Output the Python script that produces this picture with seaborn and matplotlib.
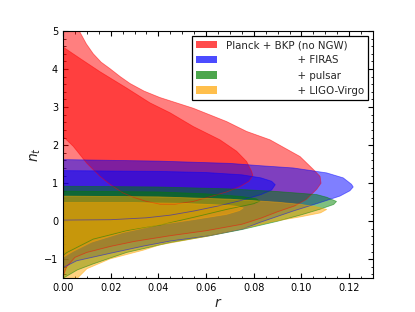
import numpy as np
import seaborn as sns
import matplotlib
matplotlib.use("Agg")
import matplotlib.pyplot as plt
from matplotlib.patches import Patch
from matplotlib.ticker import MultipleLocator, FormatStrFormatter

# contour boundaries (r, n_t), traced around each region
red_95 = [(0.0, 5.6), (0.0045, 5.3), (0.0071, 4.97), (0.0098, 4.66), (0.0127, 4.40),
          (0.016, 4.18), (0.0197, 4.01), (0.024, 3.8), (0.0281, 3.62), (0.034, 3.42),
          (0.0407, 3.25), (0.0546, 2.97), (0.0686, 2.62), (0.077, 2.36),
          (0.0868, 2.14), (0.0994, 1.70), (0.105, 1.36), (0.1078, 1.18), (0.1082, 1.0),
          (0.1064, 0.84), (0.102, 0.57), (0.097, 0.40), (0.09, 0.25), (0.083, 0.08),
          (0.075, -0.08), (0.06, -0.25), (0.045, -0.38), (0.03, -0.53), (0.02, -0.66),
          (0.01, -0.82), (0.005, -0.95), (0.0015, -1.2), (0.0, -1.45)]
red_68 = [(0.0, 4.58), (0.0071, 4.28), (0.0155, 3.93), (0.0267, 3.50), (0.0365, 3.11),
          (0.0449, 2.85), (0.0546, 2.49), (0.0658, 2.14), (0.0728, 1.84), (0.077, 1.57),
          (0.0791, 1.31), (0.0796, 1.2), (0.078, 1.05), (0.0745, 0.92), (0.0686, 0.77),
          (0.062, 0.65), (0.0546, 0.52), (0.047, 0.45), (0.0407, 0.45), (0.035, 0.52),
          (0.0295, 0.63), (0.025, 0.75), (0.0197, 0.97), (0.0155, 1.18), (0.0099, 1.53),
          (0.0043, 1.97), (0.0, 2.23)]
blue_95 = [(0.0, 1.62), (0.04, 1.58), (0.07, 1.52), (0.0826, 1.46), (0.0966, 1.40),
           (0.1106, 1.27), (0.1175, 1.14), (0.121, 0.97), (0.1217, 0.9), (0.1203, 0.8),
           (0.1161, 0.66), (0.1078, 0.49), (0.0966, 0.27), (0.0826, -0.03), (0.0756, -0.2),
           (0.0616, -0.38), (0.045, -0.52), (0.034, -0.65), (0.02, -0.84), (0.0057, -1.04),
           (0.0, -1.22)]
blue_68 = [(0.0, 1.33), (0.04, 1.31), (0.06, 1.28), (0.075, 1.22), (0.083, 1.14),
           (0.0875, 1.05), (0.089, 0.96), (0.0875, 0.82), (0.083, 0.7), (0.075, 0.55),
           (0.065, 0.4), (0.055, 0.27), (0.045, 0.16), (0.035, 0.09), (0.02, 0.04),
           (0.0, 0.03)]
green_95 = [(0.0, 0.92), (0.04, 0.9), (0.07, 0.85), (0.09, 0.78), (0.1064, 0.7),
            (0.1106, 0.63), (0.1147, 0.52), (0.1135, 0.44), (0.108, 0.32), (0.1, 0.17),
            (0.09, 0.0), (0.075, -0.22), (0.06, -0.4), (0.045, -0.56), (0.0267, -0.82),
            (0.0127, -1.12), (0.006, -1.28), (0.0, -1.5)]
green_68 = [(0.0, 0.79), (0.04, 0.77), (0.06, 0.72), (0.075, 0.65), (0.081, 0.59),
            (0.0826, 0.53), (0.08, 0.46), (0.0686, 0.31), (0.0546, 0.1), (0.0407, -0.1),
            (0.0267, -0.25), (0.0127, -0.47), (0.0017, -0.82), (0.0, -0.9)]
yellow_95 = [(0.0, 0.66), (0.04, 0.64), (0.07, 0.58), (0.09, 0.5), (0.1, 0.44),
             (0.106, 0.38), (0.1106, 0.31), (0.108, 0.22), (0.1, 0.12), (0.087, -0.02),
             (0.075, -0.2), (0.06, -0.4), (0.0407, -0.62), (0.0337, -0.76), (0.0197, -0.99),
             (0.01, -1.25), (0.006, -1.5), (0.0, -1.8)]
yellow_68 = [(0.0, 0.49), (0.03, 0.49), (0.05, 0.47), (0.065, 0.43), (0.072, 0.4),
             (0.0756, 0.35), (0.074, 0.28), (0.0686, 0.18), (0.0546, 0.04), (0.0407, -0.09),
             (0.025, -0.3), (0.012, -0.55), (0.004, -0.8), (0.0, -0.95)]

labels = ["Planck + BKP (no NGW)", " " * 22 + "+ FIRAS", " " * 22 + "+ pulsar",
          " " * 22 + "+ LIGO-Virgo"]
colors = ["red", "blue", "green", "orange"]
contours = [(red_95, red_68), (blue_95, blue_68), (green_95, green_68),
            (yellow_95, yellow_68)]

sns.set_style("ticks")
plt.rcParams.update({
    "axes.edgecolor": "black", "axes.linewidth": 0.8,
    "xtick.direction": "in", "ytick.direction": "in",
    "xtick.top": True, "ytick.right": True,
    "xtick.major.size": 3.5, "ytick.major.size": 3.5,
    "xtick.minor.size": 1.8, "ytick.minor.size": 1.8,
    "xtick.color": "black", "ytick.color": "black",
    "xtick.labelsize": 7, "ytick.labelsize": 7,
})

fig = plt.figure(figsize=(4.15, 3.12), dpi=100)
ax = fig.add_axes([63 / 415, 1 - 278.3 / 312, 310 / 415, 247.3 / 312])

for (c95, c68), col in zip(contours, colors):
    for cont in (c95, c68):
        pts = np.array(cont + [cont[0]])
        ax.fill(pts[:, 0], pts[:, 1], color=col, alpha=0.5, lw=0)
        sns.lineplot(x=pts[:, 0], y=pts[:, 1], sort=False, estimator=None,
                     color=col, lw=0.6, alpha=0.5, ax=ax)

ax.set_xlim(0, 0.13)
ax.set_ylim(-1.5, 5)
ax.xaxis.set_major_locator(MultipleLocator(0.02))
ax.xaxis.set_minor_locator(MultipleLocator(0.005))
ax.xaxis.set_major_formatter(FormatStrFormatter("%.2f"))
ax.yaxis.set_major_locator(MultipleLocator(1))
ax.yaxis.set_minor_locator(MultipleLocator(0.2))
ax.set_xlabel(r"$r$", fontsize=10, labelpad=2)
ax.set_ylabel(r"$n_t$", fontsize=10, labelpad=1)

handles = [Patch(facecolor=c, alpha=0.7, lw=0) for c in colors]
leg = ax.legend(handles, labels, loc="upper right", fontsize=7.4, fancybox=False,
                edgecolor="black", framealpha=1, handlelength=2.1)
leg.get_frame().set_linewidth(0.9)

fig.savefig("out.png", dpi=100)
